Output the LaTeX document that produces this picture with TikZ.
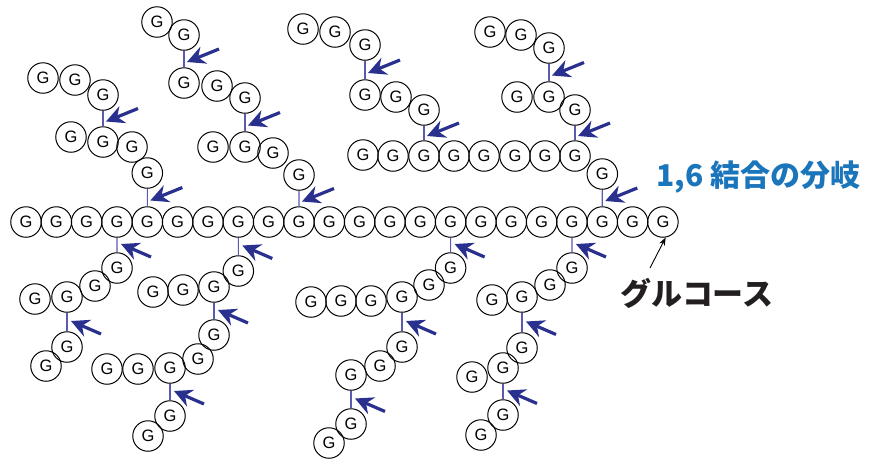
\documentclass[tikz,border=0pt]{standalone}
\usepackage{fontspec}
\usetikzlibrary{arrows.meta,calc}
\newfontfamily\glcfont{Liberation Sans}
\newfontfamily\jpfont{Noto Sans CJK JP}
\definecolor{arrowblue}{RGB}{41,48,141}
\definecolor{linkblue}{RGB}{90,90,175}
\definecolor{labelblue}{RGB}{27,117,187}
\definecolor{labelblack}{RGB}{35,31,32}
\tikzset{
  glc/.style={circle,draw,line width=1pt,minimum size=30.5pt,inner sep=0pt,
    font=\glcfont\fontsize{16.5}{16.5}\selectfont},
  link/.style={draw=linkblue,line width=1.1pt},
  brarrow/.style={draw=arrowblue,line width=3.2pt,
    -{Stealth[length=18pt,width=18pt,inset=6pt]}},
  ptr/.style={line width=0.9pt,-{Stealth[length=8pt,width=6pt]}}
}
\begin{document}
\begin{tikzpicture}[x=1pt,y=-1pt]
  \useasboundingbox (0,0) rectangle (869,459);
  % main chain
  \foreach \i in {1,...,22}
    \node[glc] (m\i) at ({26+30.33*(\i-1)},222) {G};
  % upper branches
  \foreach \n/\x/\y in {a1/147.3/173, a2/132/147, a3/103/142, a4/71/137,
      a5/103/95, a6/75/80, a7/43/78,
      b1/299/175, b2/273/153, b3/245/147, b4/213/147, b5/245/98, b6/217/86,
      b7/184/83, b8/184/35, b9/157/22,
      c1/602.3/174, r1/575/156, r2/545/156, r3/515/156, r4/484/156,
      r5/454/156, r6/424/156, r7/393/156, r8/363/155,
      c3/424/110, c4/396/97, c5/365/95, c6/365/45, c7/335/32, c8/303/29,
      d1/575/110, d2/549/97, d3/517/97, d4/549/48, d5/521/35, d6/490/32}
    \node[glc] (\n) at (\x,\y) {G};
  % lower branches
  \foreach \n/\x/\y in {e1/117/268, e2/95/286, e3/67/297, e4/35/299,
      e5/67/347, e6/46/366,
      f1/238.3/271, f2/214/287, f3/183/290, f4/153/292, f5/214/335,
      f6/198/359, f7/170/368, f8/138/369, f9/107/369, f10/170/416, f11/148/436,
      g1/450.6/268, g2/429/285, g3/402/297, g4/371/301, g5/341/301,
      g6/311/302, g7/402/347, g8/380/366, g9/351/375, g10/351/424, g11/329/443,
      h1/572/268, h2/550/285, h3/522/297, h4/492/300, h5/522/348,
      h6/503/368, h7/472/377, h8/503/415, h9/481/435}
    \node[glc] (\n) at (\x,\y) {G};
  % 1,6 links
  \foreach \p/\q in {m5/a1, a3/a5, m10/b1, b3/b5, b7/b8, m20/c1, r6/c3,
      c5/c6, r1/d1, d2/d4} {
    \draw[link] (\p) -- (\q);
    \draw[brarrow] ($(\p)!.5!(\q)+(35,-10)$) -- ($(\p)!.5!(\q)+(3,3)$);
  }
  \foreach \p/\q in {m4/e1, e3/e5, m8/f1, f2/f5, f7/f10, m15/g1, g3/g7,
      g9/g10, m19/h1, h3/h5, h6/h8} {
    \draw[link] (\p) -- (\q);
    \draw[brarrow] ($(\p)!.5!(\q)+(34,12)$) -- ($(\p)!.5!(\q)+(4,-1)$);
  }
  % labels
  \node[anchor=west,inner sep=0pt,text=labelblue,
    font=\jpfont\bfseries\fontsize{30}{30}\selectfont] (brlbl) at (656,177)
    {1,6 結合の分岐};
  \node[inner sep=0pt,text=labelblack,
    font=\jpfont\bfseries\fontsize{31}{31}\selectfont] (glclbl) at (697,293)
    {グルコース};
  \coordinate (gtail) at (650,268);
  \draw[ptr] (gtail) -- (m22.-80);
\end{tikzpicture}
\end{document}
